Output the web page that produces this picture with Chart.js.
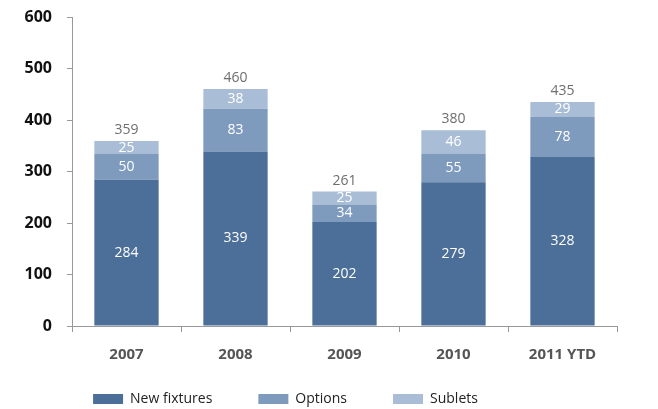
<!DOCTYPE html>
<html>
<head>
<meta charset="utf-8">
<script src="https://cdn.jsdelivr.net/npm/chart.js@4/dist/chart.umd.min.js"></script>
<style>
  html, body { margin: 0; padding: 0; background: #fff; }
  #wrap { width: 658px; height: 409px; }
</style>
</head>
<body>
<div id="wrap"><canvas id="chart"></canvas></div>
<script>
const years = ['2007', '2008', '2009', '2010', '2011 YTD'];
const newFixtures = [284, 339, 202, 279, 328];
const options = [50, 83, 34, 55, 78];
const sublets = [25, 38, 25, 46, 29];
const totals = [359, 460, 261, 380, 435];
const yTicks = [0, 100, 200, 300, 400, 500, 600];

const FONT = '"Open Sans", "DejaVu Sans", sans-serif';

// writes each segment value inside the bar and the total above the stack
const barLabels = {
    id: 'barLabels',
    afterDatasetsDraw(chart) {
        const ctx = chart.ctx;
        ctx.save();
        ctx.font = '14px ' + FONT;
        ctx.textAlign = 'center';
        ctx.textBaseline = 'middle';
        chart.data.datasets.forEach((ds, i) => {
            const meta = chart.getDatasetMeta(i);
            meta.data.forEach((bar, j) => {
                ctx.fillStyle = '#ffffff';
                ctx.fillText(ds.data[j], bar.x, (bar.y + bar.base) / 2);
            });
        });
        const top = chart.getDatasetMeta(chart.data.datasets.length - 1);
        ctx.fillStyle = '#6e6e6e';
        top.data.forEach((bar, j) => {
            ctx.fillText(totals[j], bar.x, bar.y - 11);
        });
        ctx.restore();
    }
};

// nudge the legend left and up from where the layout puts it
const legendShift = {
    id: 'legendShift',
    afterLayout(chart) {
        const lg = chart.legend;
        lg.left -= 23; lg.right -= 23;
        lg.top -= 32; lg.bottom -= 32;
    }
};

new Chart(document.getElementById('chart'), {
    type: 'bar',
    data: {
        labels: years,
        datasets: [
            { label: 'New fixtures', data: newFixtures, backgroundColor: '#4b6f99' },
            { label: 'Options', data: options, backgroundColor: '#7e9bbe' },
            { label: 'Sublets', data: sublets, backgroundColor: '#a9bed6' },
        ]
    },
    options: {
        responsive: true,
        maintainAspectRatio: false,
        animation: false,
        layout: { padding: { top: 17, right: 41, left: 0, bottom: -39 } },
        datasets: { bar: { barPercentage: 0.59, categoryPercentage: 1 } },
        plugins: {
            legend: {
                position: 'bottom',
                labels: {
                    boxWidth: 30,
                    boxHeight: 10,
                    padding: 46,
                    color: '#222',
                    font: { family: FONT, size: 14 }
                }
            },
            tooltip: { enabled: false }
        },
        scales: {
            x: {
                stacked: true,
                grid: { drawOnChartArea: false, tickLength: 6, color: '#999' },
                border: { color: '#999' },
                ticks: { color: '#555', padding: 14, font: { family: FONT, size: 15, weight: 'bold' } }
            },
            y: {
                stacked: true,
                min: 0,
                max: 600,
                afterFit: s => { s.width = 72; s.paddingTop = 0; },
                afterBuildTicks: s => { s.ticks = yTicks.map(v => ({ value: v })); },
                grid: { drawOnChartArea: false, tickLength: 5, color: '#999' },
                border: { color: '#999' },
                ticks: { color: '#111', padding: 15, font: { family: FONT, size: 16, weight: 'bold' } }
            }
        }
    },
    plugins: [barLabels, legendShift]
});
</script>
</body>
</html>
